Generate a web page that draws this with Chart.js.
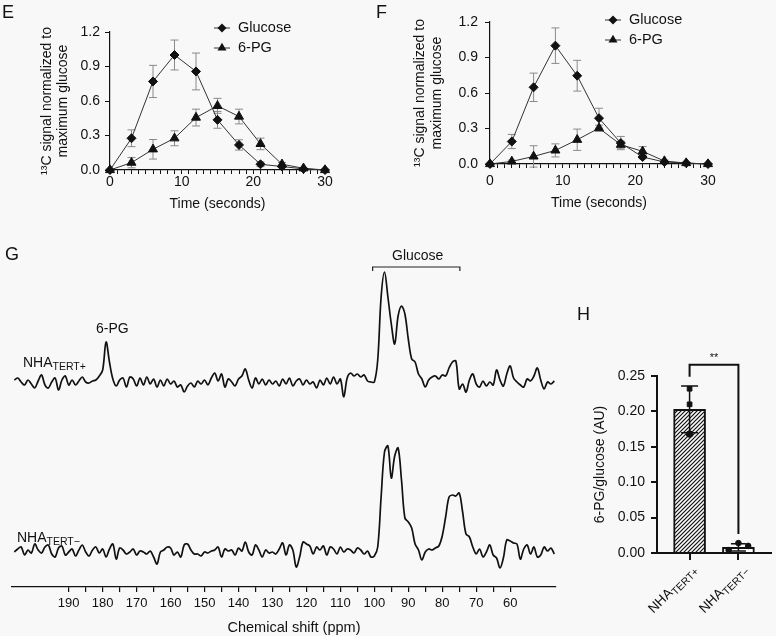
<!DOCTYPE html>
<html>
<head>
<meta charset="utf-8">
<script src="https://cdn.jsdelivr.net/npm/chart.js@4.4.1/dist/chart.umd.min.js"></script>
<style>
  body { margin: 0; background: #f8f8f8; }
  #fig { position: relative; width: 776px; height: 636px; overflow: hidden; background: #f8f8f8;
         font-family: 'Liberation Sans', Arial, Helvetica, sans-serif; color: #111; }
  #fig canvas { position: absolute; }
  .t { position: absolute; white-space: nowrap; line-height: 1; font-size: 14px; }
  .t sub { font-size: 10.5px; vertical-align: -3px; line-height: 1; }
  .panel { font-size: 18px; }
  .rot { transform-origin: 100% 50%; transform: rotate(-45deg); font-size: 13.5px; }
</style>
</head>
<body>
<div id="fig">
  <canvas id="chartE" width="380" height="215" style="left:0;top:0"></canvas>
  <canvas id="chartF" width="396" height="215" style="left:380px;top:0"></canvas>
  <canvas id="chartGtop" width="544" height="140" style="left:12px;top:260px"></canvas>
  <canvas id="chartGbot" width="576" height="206" style="left:0;top:430px"></canvas>
  <canvas id="chartH" width="196" height="336" style="left:580px;top:300px"></canvas>

  <div class="t panel" style="left:2px;top:3px">E</div>
  <div class="t panel" style="left:376px;top:3px">F</div>
  <div class="t panel" style="left:5px;top:245px">G</div>
  <div class="t panel" style="left:577px;top:305px">H</div>

  <div class="t" style="left:96px;top:321px">6-PG</div>
  <div class="t" style="left:392px;top:248px">Glucose</div>
  <div class="t" style="left:23px;top:355px">NHA<sub>TERT+</sub></div>
  <div class="t" style="left:17px;top:530px">NHA<sub>TERT−</sub></div>
  <div class="t" style="left:294px;top:620px;font-size:14.5px;transform:translateX(-50%)">Chemical shift (ppm)</div>

  <div class="t rot" style="right:81px;top:560px">NHA<sub>TERT+</sub></div>
  <div class="t rot" style="right:30px;top:560px">NHA<sub>TERT−</sub></div>
</div>

<script>
// ---- panels E / F : 13C time courses ----
const timePoints = [0, 3, 6, 9, 12, 15, 18, 21, 24, 27, 30];

const glucoseE    = [0, 0.276, 0.77, 1.0, 0.857, 0.436, 0.218, 0.05, 0.03, 0.01, 0];
const glucoseErrE = [0, 0.073, 0.14, 0.13, 0.16, 0.073, 0.045, 0.02, 0.01, 0, 0];
const pgE         = [0, 0.064, 0.18, 0.276, 0.456, 0.558, 0.465, 0.227, 0.05, 0.015, 0];
const pgErrE      = [0, 0.045, 0.085, 0.065, 0.073, 0.065, 0.064, 0.05, 0.015, 0, 0];

const glucoseF    = [0, 0.19, 0.648, 1.0, 0.746, 0.387, 0.177, 0.059, 0.017, 0.008, 0];
const glucoseErrF = [0, 0.06, 0.12, 0.15, 0.13, 0.084, 0.056, 0.015, 0.01, 0, 0];
const pgF         = [0, 0.022, 0.064, 0.115, 0.205, 0.303, 0.163, 0.107, 0.025, 0.008, 0];
const pgErrF      = [0, 0.01, 0.09, 0.055, 0.09, 0.025, 0.03, 0.04, 0.01, 0, 0];

// ---- panel G : 13C spectra (ppm, intensity in arbitrary units) ----
const ppm = [
  206, 205, 204, 203, 202, 201, 200, 199, 198, 197,
  196, 195, 194, 193, 192, 191, 190, 189, 188, 187,
  186, 185, 184, 183, 182, 181, 180, 179, 178, 177,
  176, 175, 174, 173, 172, 171, 170, 169, 168, 167,
  166, 165, 164, 163, 162, 161, 160, 159, 158, 157,
  156, 155, 154, 153, 152, 151, 150, 149, 148, 147,
  146, 145, 144, 143, 142, 141, 140, 139, 138, 137,
  136, 135, 134, 133, 132, 131, 130, 129, 128, 127,
  126, 125, 124, 123, 122, 121, 120, 119, 118, 117,
  116, 115, 114, 113, 112, 111, 110, 109, 108, 107,
  106, 105, 104, 103, 102, 101, 100, 99, 98, 97,
  96, 95, 94, 93, 92, 91, 90, 89, 88, 87,
  86, 85, 84, 83, 82, 81, 80, 79, 78, 77,
  76, 75, 74, 73, 72, 71, 70, 69, 68, 67,
  66, 65, 64, 63, 62, 61, 60, 59, 58, 57,
  56, 55, 54, 53, 52, 51, 50, 49, 48, 47
];
const spectrumTertPlus = [
  2, 4, 0, -3, 2, -2, -6, 1, 7, -3,
  -6, 0, 4, -8, 2, 6, -3, 2, -3, 1,
  5, 0, -1, 1, 2, 6, 12, 40, 20, 3,
  -4, 2, 4, -5, 5, 3, -4, 4, -3, 5,
  -2, 3, -5, 2, -4, 3, -2, 1, -5, -3,
  -10, -4, -1, -5, 1, -2, 2, -3, 4, 9,
  1, 8, -5, 3, 0, -4, 3, 6, 13, 2,
  -6, 4, -2, 3, -3, 2, -2, 1, -4, 3,
  -2, 4, -4, 1, 3, -3, 2, -2, 0, -6,
  2, -3, 4, -2, 5, -2, 3, -15, 4, 9,
  6, 8, 5, 7, 1, 0, 0, 22, 85, 110,
  85, 58, 38, 66, 76, 68, 43, 23, 20, 8,
  3, -5, 2, 5, 6, 3, 7, 6, 14, 20,
  21, -7, -2, -10, 2, 8, -2, -5, 1, -4,
  0, -3, 12, 2, -4, 8, 16, 4, 0, -3,
  -5, 3, 1, 6, 14, 2, -7, 0, -2, 1
];
const spectrumTertMinus = [
  0, 3, 5, -3, 2, -1, 8, 2, -1, 5,
  7, -2, -5, 4, 6, -3, 0, 3, -4, 2,
  7, 0, -4, 2, 5, -1, 3, -5, 3, 8,
  -7, 4, 2, -2, 0, 3, -3, 1, 0, -2,
  1, -5, -12, 0, 2, 5, 4, -3, 0, -5,
  7, 8, 2, -2, -2, -4, 0, -1, 1, 2,
  5, -5, 3, 1, 2, -3, 4, 1, 10, 0,
  -3, 7, 2, -5, 2, -1, 0, -2, 3, 9,
  -3, 7, 2, -15, -5, 10, 8, 6, -2, 5,
  2, 6, -3, 5, 3, -2, 5, 0, 3, 2,
  -1, 4, 2, -2, 1, -5, -4, 5, 55, 100,
  106, 74, 96, 104, 72, 34, 30, 24, 8, 2,
  -8, 0, 3, 2, 4, 6, 16, 35, 55, 57,
  56, 59, 40, 18, 15, 5, -2, 3, -5, 0,
  7, -3, -6, -16, -6, 12, 11, 9, 8, -7,
  3, 7, -2, 5, -5, -3, 5, 1, 4, -2
];
const ppmTicks = [190, 185, 180, 175, 170, 165, 160, 155, 150, 145, 140, 135, 130, 125,
                  120, 115, 110, 105, 100, 95, 90, 85, 80, 75, 70, 65, 60];

// ---- panel H : 6-PG / glucose ratio ----
const groupsH = ['NHA TERT+', 'NHA TERT−'];
const ratioMeans = [0.203, 0.008];
const ratioSD = [0.033, 0.005];
const pointsTertPlus = [0.232, 0.210, 0.168];
const pointsTertMinus = [0.004, 0.014, 0.010];
const significance = '**';

const FONT = "'Liberation Sans', Arial, Helvetica, sans-serif";
Chart.defaults.font.family = FONT;
Chart.defaults.color = '#111';
Chart.defaults.animation = false;
Chart.defaults.responsive = false;
Chart.defaults.events = [];
Chart.defaults.plugins.legend.display = false;
Chart.defaults.plugins.tooltip.enabled = false;

function drawMarker(ctx, style, x, y, r) {
  ctx.beginPath();
  if (style === 'triangle') {
    let a = 0;
    ctx.moveTo(x + Math.sin(a) * r, y - Math.cos(a) * r);
    a += 2 * Math.PI / 3;
    ctx.lineTo(x + Math.sin(a) * r, y - Math.cos(a) * r);
    a += 2 * Math.PI / 3;
    ctx.lineTo(x + Math.sin(a) * r, y - Math.cos(a) * r);
  } else {
    ctx.moveTo(x, y - r); ctx.lineTo(x + r, y); ctx.lineTo(x, y + r); ctx.lineTo(x - r, y);
  }
  ctx.closePath();
  ctx.fill();
}

const errorBarPlugin = {
  id: 'errorBars',
  beforeDatasetsDraw(chart) {
    const ctx = chart.ctx, ys = chart.scales.y;
    chart.data.datasets.forEach((ds, i) => {
      if (!ds.errors) return;
      const meta = chart.getDatasetMeta(i);
      ctx.save();
      ctx.strokeStyle = '#8a8a8a';
      ctx.lineWidth = 1;
      meta.data.forEach((pt, j) => {
        const e = ds.errors[j];
        if (!e) return;
        const v = ds.data[j].y;
        const yt = ys.getPixelForValue(v + e), yb = ys.getPixelForValue(v - e);
        ctx.beginPath();
        ctx.moveTo(pt.x, yt); ctx.lineTo(pt.x, yb);
        ctx.moveTo(pt.x - 4, yt); ctx.lineTo(pt.x + 4, yt);
        ctx.moveTo(pt.x - 4, yb); ctx.lineTo(pt.x + 4, yb);
        ctx.stroke();
      });
      ctx.restore();
    });
  }
};

const legendPlugin = {
  id: 'sideLegend',
  afterDraw(chart, args, opts) {
    const ctx = chart.ctx;
    ctx.save();
    chart.data.datasets.forEach((ds, k) => {
      const cy = opts.y + k * opts.gap;
      ctx.strokeStyle = '#333';
      ctx.lineWidth = 1;
      ctx.beginPath(); ctx.moveTo(opts.x - 8, cy); ctx.lineTo(opts.x + 8, cy); ctx.stroke();
      ctx.fillStyle = '#111';
      drawMarker(ctx, ds.pointStyle, opts.x, cy, ds.pointRadius);
      ctx.font = '14.5px ' + FONT;
      ctx.textBaseline = 'middle';
      ctx.fillText(ds.label, opts.x + 16, cy);
    });
    ctx.restore();
  }
};

function timeCourse(id, glc, glcErr, pg, pgErr, g) {
  const line = { borderColor: '#333', borderWidth: 1, tension: 0, clip: false,
                 pointBackgroundColor: '#111', pointBorderColor: '#111', pointBorderWidth: 1 };
  return new Chart(document.getElementById(id), {
    type: 'line',
    data: {
      datasets: [
        Object.assign({ label: 'Glucose', data: timePoints.map((t, i) => ({ x: t, y: glc[i] })),
          errors: glcErr, pointStyle: 'rectRot', pointRadius: 4.5 }, line),
        Object.assign({ label: '6-PG', data: timePoints.map((t, i) => ({ x: t, y: pg[i] })),
          errors: pgErr, pointStyle: 'triangle', pointRadius: 5.2 }, line)
      ]
    },
    options: {
      layout: { padding: { top: g.top, right: g.right, left: 0, bottom: 0 } },
      scales: {
        x: {
          type: 'linear', min: 0, max: 30,
          afterFit: s => { s.height = g.xh; },
          ticks: { stepSize: 1, autoSkip: false, maxRotation: 0, padding: g.xpad, font: { size: 14 },
                   callback: v => (v % 10 === 0 ? String(v) : '') },
          grid: { drawOnChartArea: false, tickLength: 4, color: '#111' },
          border: { color: '#111', width: 1.2 },
          title: { display: true, text: 'Time (seconds)', font: { size: 14 }, padding: { top: 0, bottom: g.xtp } }
        },
        y: {
          min: 0, max: 1.2,
          afterFit: s => { s.width = g.yw; },
          ticks: { stepSize: 0.3, padding: g.ypad, font: { size: 14 }, callback: v => v.toFixed(1) },
          grid: { drawOnChartArea: false, tickLength: 5, color: '#111' },
          border: { color: '#111', width: 1.2 },
          title: { display: true, text: ['¹³C signal normalized to', 'maximum glucose'],
                   font: { size: 14, lineHeight: g.lh }, padding: { top: g.ytp, bottom: 0 } }
        }
      },
      plugins: { sideLegend: { x: g.lx, y: g.ly, gap: 20 } }
    },
    plugins: [errorBarPlugin, legendPlugin]
  });
}

timeCourse('chartE', glucoseE, glucoseErrE, pgE, pgErrE,
  { top: 32, right: 55, xh: 45, yw: 110, ypad: 5, xpad: 0, xtp: 2, ytp: 39, lh: 1.15, lx: 222, ly: 28 });
timeCourse('chartF', glucoseF, glucoseErrF, pgF, pgErrF,
  { top: 22, right: 68, xh: 51, yw: 110, ypad: 7, xpad: 5, xtp: 3.6, ytp: 31, lh: 1.25, lx: 233, ly: 20 });

// ---- G ----
const bracketPlugin = {
  id: 'glucoseBracket',
  afterDatasetsDraw(chart, args, o) {
    if (o.from === undefined) return;
    const { ctx, scales: { x, y } } = chart;
    const x1 = x.getPixelForValue(o.from), x2 = x.getPixelForValue(o.to), yy = y.getPixelForValue(o.level);
    ctx.save();
    ctx.strokeStyle = '#222';
    ctx.lineWidth = 1.2;
    ctx.beginPath();
    ctx.moveTo(x1, yy + 4); ctx.lineTo(x1, yy); ctx.lineTo(x2, yy); ctx.lineTo(x2, yy + 4);
    ctx.stroke();
    ctx.restore();
  }
};

function spectrum(id, values, yMin, yMax, withAxis, extra) {
  return new Chart(document.getElementById(id), {
    type: 'line',
    data: {
      datasets: [{
        data: ppm.map((p, i) => ({ x: p, y: values[i] })),
        borderColor: '#111', borderWidth: 1.7, pointRadius: 0, tension: 0.35, clip: false
      }]
    },
    options: {
      layout: { padding: withAxis ? { left: 12, right: 20, top: 0, bottom: 0 } : 0 },
      scales: {
        x: {
          type: 'linear', min: 46.5, max: 206.7, reverse: true, display: withAxis,
          afterBuildTicks: s => { s.ticks = ppmTicks.map(v => ({ value: v })); },
          afterFit: s => { if (withAxis) s.height = 49; },
          ticks: { autoSkip: false, maxRotation: 0, padding: 4, font: { size: 13 },
                   callback: v => (v % 10 === 0 ? String(v) : '') },
          grid: { drawOnChartArea: false, tickLength: 5, color: '#111', lineWidth: 1.2 },
          border: { color: '#111', width: 1.3 }
        },
        y: { min: yMin, max: yMax, display: false }
      },
      plugins: extra || {}
    },
    plugins: [bracketPlugin]
  });
}

spectrum('chartGtop', spectrumTertPlus, -18, 122, false,
  { glucoseBracket: { from: 100.5, to: 74.8, level: 115 } });
spectrum('chartGbot', spectrumTertMinus, -35, 122, true);

// ---- H ----
const hCanvas = document.getElementById('chartH');
function hatchPattern(ctx) {
  const c = document.createElement('canvas');
  c.width = 4; c.height = 4;
  const g = c.getContext('2d');
  g.fillStyle = '#fafafa';
  g.fillRect(0, 0, 4, 4);
  g.strokeStyle = '#111';
  g.lineWidth = 1.2;
  g.beginPath();
  g.moveTo(-1, 5); g.lineTo(5, -1);
  g.moveTo(-1, 1); g.lineTo(1, -1);
  g.moveTo(3, 5); g.lineTo(5, 3);
  g.stroke();
  return ctx.createPattern(c, 'repeat');
}

const barExtrasPlugin = {
  id: 'barExtras',
  afterDatasetsDraw(chart) {
    const { ctx, scales: { x, y } } = chart;
    ctx.save();
    ctx.strokeStyle = '#111';
    ctx.lineWidth = 1.5;
    ratioMeans.forEach((m, i) => {
      const cx = x.getPixelForValue(i + 1);
      const yt = y.getPixelForValue(m + ratioSD[i]), yb = y.getPixelForValue(m - ratioSD[i]);
      const hw = i === 0 ? 8.5 : 7.5;
      ctx.beginPath();
      ctx.moveTo(cx, yt); ctx.lineTo(cx, yb);
      ctx.moveTo(cx - hw, yt); ctx.lineTo(cx + hw, yt);
      ctx.moveTo(cx - hw, yb); ctx.lineTo(cx + hw, yb);
      ctx.stroke();
    });
    const xa = x.getPixelForValue(1), xb = x.getPixelForValue(2);
    const yTop = y.getPixelForValue(0.266);
    ctx.lineWidth = 2;
    ctx.beginPath();
    ctx.moveTo(xa, y.getPixelForValue(0.249));
    ctx.lineTo(xa, yTop); ctx.lineTo(xb, yTop);
    ctx.lineTo(xb, y.getPixelForValue(0.027));
    ctx.stroke();
    ctx.fillStyle = '#111';
    ctx.font = '11px ' + FONT;
    ctx.textAlign = 'center';
    ctx.fillText(significance, (xa + xb) / 2, yTop - 4);
    ctx.restore();
  }
};

new Chart(hCanvas, {
  type: 'bar',
  data: {
    datasets: [
      {
        type: 'scatter', order: 1,
        data: pointsTertPlus.map(v => ({ x: 1, y: v })),
        pointStyle: ['rect', 'rect', 'circle'], pointRadius: 3.3,
        backgroundColor: '#111', borderColor: '#111', clip: false
      },
      {
        type: 'scatter', order: 1,
        data: pointsTertMinus.map((v, i) => ({ x: 2 + [-0.2, 0, 0.2][i], y: v })),
        pointStyle: 'circle', pointRadius: 2.8,
        backgroundColor: '#111', borderColor: '#111', clip: false
      },
      {
        order: 2,
        label: '6-PG/glucose',
        data: ratioMeans.map((m, i) => ({ x: i + 1, y: m })),
        backgroundColor: [hatchPattern(hCanvas.getContext('2d')), '#ffffff'],
        borderColor: '#111', borderWidth: 2, barThickness: 32
      }
    ]
  },
  options: {
    layout: { padding: { top: 76, right: 0, left: 0, bottom: 0 } },
    scales: {
      x: {
        type: 'linear', min: 0.333, max: 2.667, offset: false,
        afterBuildTicks: s => { s.ticks = groupsH.map((g, i) => ({ value: i + 1 })); },
        afterFit: s => { s.height = 83; },
        ticks: { display: false },
        grid: { drawOnChartArea: false, offset: false, tickLength: 7, color: '#111', lineWidth: 2 },
        border: { color: '#111', width: 2 }
      },
      y: {
        min: 0, max: 0.25,
        afterFit: s => { s.width = 77; },
        ticks: { stepSize: 0.05, padding: 6, font: { size: 14 }, callback: v => v.toFixed(2) },
        grid: { drawOnChartArea: false, tickLength: 6, color: '#111', lineWidth: 2 },
        border: { color: '#111', width: 2 },
        title: { display: true, text: '6-PG/glucose (AU)', font: { size: 14 }, padding: { top: 11.6, bottom: 0 } }
      }
    }
  },
  plugins: [barExtrasPlugin]
});
</script>
</body>
</html>
